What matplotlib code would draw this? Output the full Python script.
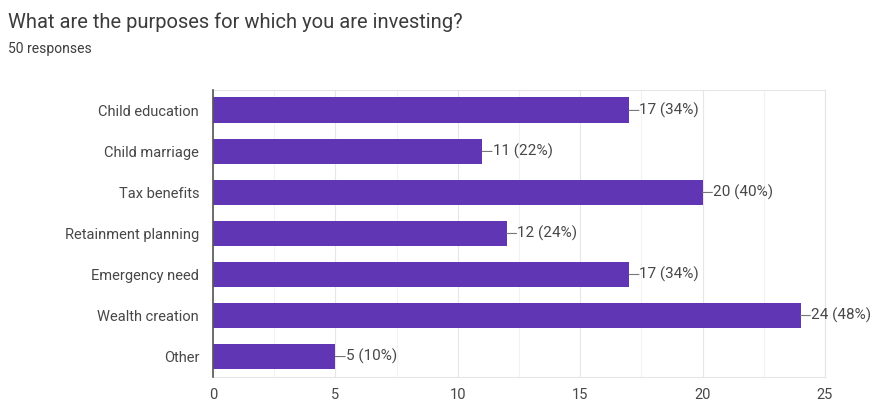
import matplotlib.pyplot as plt
from matplotlib.ticker import MultipleLocator

plt.rcParams["font.family"] = ["Roboto", "DejaVu Sans"]

# Survey results: investing purposes (50 responses)
categories = [
    "Child education",
    "Child marriage",
    "Tax benefits",
    "Retainment planning",
    "Emergency need",
    "Wealth creation",
    "Other",
]
counts = [17, 11, 20, 12, 17, 24, 5]
total_responses = 50

BAR_COLOR = "#6136b5"
TEXT_COLOR = "#474747"

fig = plt.figure(figsize=(8.77, 4.05), dpi=100)
ax = fig.add_axes([0.2429, 0.069, 0.6978, 0.709])

y = list(range(len(categories)))
ax.barh(y, counts, height=0.63, color=BAR_COLOR, zorder=3)

# value labels with a short leader line, like Google Forms
for yi, c in zip(y, counts):
    ax.annotate(
        "",
        xy=(c, yi), xytext=(c + 0.4, yi),
        arrowprops=dict(arrowstyle="-", color="#777777", lw=0.8, shrinkA=0, shrinkB=0),
        zorder=4,
    )
    ax.text(c + 0.42, yi, f"{c} ({c / total_responses:.0%})",
            va="center", ha="left", fontsize=11, color=TEXT_COLOR)

ax.set_xlim(0, 25)
ax.set_ylim(len(categories) - 0.5, -0.5)
ax.set_yticks(y)
ax.set_yticklabels(categories, fontsize=10.5, color=TEXT_COLOR)
ax.xaxis.set_major_locator(MultipleLocator(5))
ax.xaxis.set_minor_locator(MultipleLocator(2.5))
ax.tick_params(axis="x", labelsize=10.5, labelcolor=TEXT_COLOR, length=0, pad=8, which="both")
ax.tick_params(axis="y", length=0, pad=10)

ax.grid(axis="x", which="major", color="#e6e6e6", lw=0.8, zorder=0)
ax.grid(axis="x", which="minor", color="#f2f2f2", lw=0.8, zorder=0)

for side in ("top", "right", "bottom"):
    ax.spines[side].set_color("#e6e6e6")
    ax.spines[side].set_linewidth(0.8)
ax.spines["left"].set_color("#555555")
ax.spines["left"].set_linewidth(1.2)
ax.spines["left"].set_zorder(5)

fig.text(0.009, 0.945, "What are the purposes for which you are investing?",
         fontsize=14.5, color="#3c3c3c", va="center", ha="left")
fig.text(0.009, 0.88, "50 responses", fontsize=10, color="#3c3c3c",
         va="center", ha="left")

fig.savefig("out.png", dpi=100)
